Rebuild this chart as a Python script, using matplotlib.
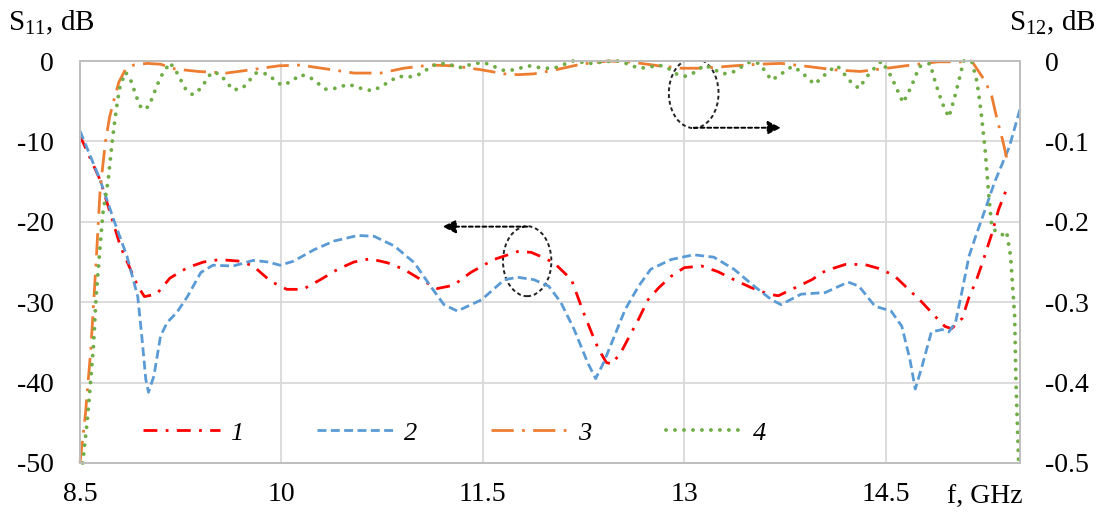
import matplotlib
matplotlib.use("Agg")
import matplotlib.pyplot as plt
from matplotlib.patches import Ellipse

plt.rcParams['font.family'] = ['Liberation Serif', 'DejaVu Serif']
plt.rcParams['mathtext.fontset'] = 'custom'
plt.rcParams['mathtext.rm'] = 'Liberation Serif'
plt.rcParams['axes.unicode_minus'] = False

# curve 1 (S11, red)
f1 = [8.5, 8.65, 8.8, 8.93, 8.98, 9.07, 9.17, 9.3, 9.42, 9.54, 9.69, 9.79, 9.92,
      10.04, 10.16, 10.29, 10.42, 10.54, 10.66, 10.79, 10.91, 11.04, 11.16, 11.28,
      11.41, 11.58, 11.76, 11.86, 11.93, 12.03, 12.16, 12.25, 12.31, 12.36, 12.42,
      12.46, 12.53, 12.58, 12.66, 12.73, 12.81, 12.9, 13.0, 13.13, 13.25, 13.37,
      13.5, 13.63, 13.7, 13.8, 13.95, 14.05, 14.2, 14.34, 14.47, 14.57, 14.67,
      14.77, 14.87, 14.94, 14.99, 15.07, 15.12, 15.17, 15.22, 15.29, 15.34, 15.41]
s1 = [-9.3, -14.8, -23, -28, -29.3, -29, -27, -25.7, -25, -24.7, -24.9, -25.5, -27.4,
      -28.4, -28.4, -27.2, -25.9, -25, -24.6, -25.1, -25.9, -27.2, -28.3, -27.9,
      -26.3, -24.7, -23.7, -23.8, -24.3, -25.1, -27.2, -31.3, -33.8, -35.8, -37.5,
      -37.7, -36.2, -34.6, -32.1, -29.7, -28.2, -26.8, -25.7, -25.5, -26.2, -27.2,
      -28.2, -29.0, -29.2, -28.4, -27.2, -26.1, -25.3, -25.3, -25.9, -26.8, -28.4,
      -30, -31.8, -33, -33.3, -32, -29.4, -27.5, -25.1, -21.5, -18.5, -15.5]

# curve 2 (S11, blue)
f2 = [8.5, 8.65, 8.75, 8.85, 8.93, 8.96, 8.99, 9.01, 9.05, 9.1, 9.15, 9.22, 9.3, 9.4,
      9.49, 9.64, 9.79, 9.9, 9.99, 10.09, 10.24, 10.39, 10.57, 10.69, 10.84, 10.99,
      11.11, 11.21, 11.31, 11.49, 11.66, 11.76, 11.88, 11.99, 12.08, 12.18, 12.28,
      12.34, 12.4, 12.48, 12.56, 12.66, 12.75, 12.9, 13.07, 13.22, 13.37, 13.52,
      13.65, 13.72, 13.87, 14.05, 14.22, 14.3, 14.42, 14.54, 14.62, 14.68, 14.72,
      14.77, 14.84, 14.92, 14.97, 15.02, 15.07, 15.12, 15.17, 15.24, 15.31, 15.42, 15.5]
s2 = [-8.7, -14.8, -19.7, -24.3, -29.3, -34.2, -39.6, -41.2, -39.2, -34.2, -32.5,
      -31.3, -29.3, -26.3, -25.4, -25.5, -24.8, -25.0, -25.4, -24.9, -23.5, -22.4,
      -21.7, -21.8, -23.0, -25.1, -28.0, -30.3, -31.1, -29.7, -27.2, -26.9, -27.2,
      -28.0, -30.0, -33.4, -37.5, -39.5, -37.5, -34.2, -30.9, -28.0, -25.9, -24.7,
      -24.1, -24.4, -25.9, -28.0, -29.7, -30.3, -29.0, -28.8, -27.5, -28.0, -30.5,
      -31.1, -33.0, -37.1, -40.8, -38.0, -33.7, -33.4, -33.7, -32.5, -28.5, -24.3,
      -21.8, -18.5, -15.1, -10.7, -6.0]

# curve 3 (S12, orange)
f3 = [8.5, 8.54, 8.58, 8.62, 8.65, 8.69, 8.72, 8.75, 8.79, 8.84, 8.9, 9.0, 9.1, 9.21,
      9.38, 9.59, 9.77, 9.98, 10.14, 10.3, 10.54, 10.74, 10.91, 11.11, 11.28, 11.49,
      11.66, 11.76, 11.88, 12.04, 12.23, 12.43, 12.58, 12.68, 12.81, 12.98, 13.1,
      13.22, 13.37, 13.55, 13.72, 13.93, 14.12, 14.31, 14.51, 14.69, 14.89, 15.07,
      15.14, 15.24, 15.29, 15.33, 15.37, 15.4]
s3 = [-0.5, -0.44, -0.36, -0.25, -0.16, -0.1, -0.07, -0.05, -0.026, -0.01, -0.005,
      -0.003, -0.004, -0.01, -0.013, -0.015, -0.011, -0.006, -0.005, -0.009, -0.015,
      -0.015, -0.009, -0.005, -0.006, -0.011, -0.016, -0.017, -0.016, -0.011, -0.004,
      0, -0.001, -0.003, -0.006, -0.009, -0.009, -0.008, -0.006, -0.004, -0.003,
      -0.007, -0.011, -0.013, -0.009, -0.005, -0.001, -0.001, 0, -0.025, -0.044,
      -0.073, -0.098, -0.12]

# curve 4 (S12, green)
f4 = [8.52, 8.55, 8.57, 8.6, 8.62, 8.65, 8.67, 8.71, 8.74, 8.76, 8.78, 8.8, 8.84,
      8.88, 8.93, 8.96, 9.01, 9.04, 9.07, 9.1, 9.17, 9.22, 9.29, 9.34, 9.4, 9.48,
      9.54, 9.64, 9.71, 9.81, 9.89, 10.0, 10.07, 10.14, 10.21, 10.33, 10.4, 10.5,
      10.61, 10.68, 10.75, 10.87, 10.95, 11.02, 11.15, 11.22, 11.33, 11.44, 11.51,
      11.66, 11.73, 11.84, 11.95, 12.03, 12.17, 12.3, 12.46, 12.52, 12.66, 12.73,
      12.81, 12.88, 12.94, 13.01, 13.08, 13.15, 13.29, 13.36, 13.49, 13.56, 13.65,
      13.74, 13.8, 13.86, 13.97, 14.08, 14.14, 14.24, 14.3, 14.38, 14.47, 14.54,
      14.63, 14.69, 14.75, 14.83, 14.87, 14.92, 14.97, 15.01, 15.05, 15.08, 15.14,
      15.18, 15.21, 15.24, 15.27, 15.29, 15.33, 15.37, 15.4, 15.43, 15.46, 15.47, 15.49]
s4 = [-0.5, -0.454, -0.417, -0.355, -0.293, -0.23, -0.19, -0.148, -0.1, -0.073,
      -0.049, -0.03, -0.014, -0.025, -0.049, -0.06, -0.057, -0.045, -0.032, -0.02,
      -0.002, -0.014, -0.036, -0.042, -0.034, -0.014, -0.016, -0.036, -0.034, -0.015,
      -0.016, -0.03, -0.026, -0.017, -0.02, -0.035, -0.034, -0.029, -0.035, -0.037,
      -0.031, -0.019, -0.02, -0.017, -0.004, -0.003, -0.008, -0.003, -0.002, -0.012,
      -0.011, -0.006, -0.009, -0.009, 0, -0.003, 0, 0, -0.009, -0.008, -0.005,
      -0.009, -0.016, -0.019, -0.014, -0.005, -0.016, -0.014, -0.001, -0.003, -0.024,
      -0.014, -0.007, -0.012, -0.029, -0.012, -0.006, -0.026, -0.034, -0.015, 0,
      -0.019, -0.052, -0.032, -0.007, -0.003, -0.027, -0.052, -0.07, -0.047, -0.021,
      0, 0, -0.026, -0.063, -0.11, -0.172, -0.206, -0.214, -0.216, -0.212, -0.243,
      -0.317, -0.4, -0.5]

xticks = [8.5, 10, 11.5, 13, 14.5]
xlabels = ['8.5', '10', '11.5', '13', '14.5']
yticks_l = [0, -10, -20, -30, -40, -50]
yticks_r = [0, -0.1, -0.2, -0.3, -0.4, -0.5]
ylabels_r = ['0', '-0.1', '-0.2', '-0.3', '-0.4', '-0.5']

fig = plt.figure(figsize=(11.02, 5.22), dpi=100)
ax = fig.add_axes([80 / 1102, (522 - 463) / 522, 940 / 1102, 402 / 522])
ax2 = ax.twinx()

ax.set_xlim(8.5, 15.5)
ax.set_ylim(-50, 0)
ax2.set_ylim(-0.5, 0)

ax.set_xticks(xticks)
ax.set_xticklabels(xlabels)
ax.set_yticks(yticks_l)
ax.set_yticklabels([str(v) for v in yticks_l])
ax2.set_yticks(yticks_r)
ax2.set_yticklabels(ylabels_r)

ax.grid(True, color='#d9d9d9', lw=1.3)
ax.set_axisbelow(True)
for a in (ax, ax2):
    for sp in a.spines.values():
        sp.set_color('#bfbfbf')
        sp.set_linewidth(1.3)
ax.tick_params(axis='both', length=0, labelsize=20)
ax.tick_params(axis='y', pad=19)
ax.tick_params(axis='x', pad=14)
ax2.tick_params(axis='y', length=0, labelsize=20, pad=18)

lw = 2.0
l1, = ax.plot(f1, s1, color='#ff0000', lw=lw, dashes=(5, 3, 1, 3), clip_on=False)
l2, = ax.plot(f2, s2, color='#5b9bd5', lw=lw, dashes=(3.2, 1.6), clip_on=False)
l3, = ax2.plot(f3, s3, color='#ed7d31', lw=lw, dashes=(8, 3, 1, 3), clip_on=False)
l4, = ax2.plot(f4, s4, color='#70ad47', lw=2.8, dashes=(0.01, 2.3),
               dash_capstyle='round', clip_on=False)

# annotation ellipses and arrows
ax.add_patch(Ellipse((13.07, -4.0), 0.37, 8.7, fill=False, ls=(0, (2, 1.5)),
                     lw=1.4, ec='#222222'))
ax.annotate('', xy=(13.72, -8.3), xytext=(13.07, -8.3),
            arrowprops=dict(arrowstyle='-|>', ls=(0, (2, 1.5)), color='black',
                            lw=1.4, mutation_scale=20, shrinkA=0, shrinkB=0))
ax.add_patch(Ellipse((11.83, -24.9), 0.36, 8.7, fill=False, ls=(0, (2, 1.5)),
                     lw=1.4, ec='#222222'))
ax.annotate('', xy=(11.2, -20.6), xytext=(11.83, -20.6),
            arrowprops=dict(arrowstyle='-|>', ls=(0, (2, 1.5)), color='black',
                            lw=1.4, mutation_scale=20, shrinkA=0, shrinkB=0))

leg = ax2.legend([l1, l2, l3, l4], ['1', '2', '3', '4'], ncol=4, frameon=False,
                 loc='center left', bbox_to_anchor=(0.067, 0.075),
                 borderaxespad=0, borderpad=0, handlelength=2.9,
                 handletextpad=0.4, columnspacing=2.8,
                 prop={'family': 'Liberation Serif', 'style': 'italic', 'size': 19})

fig.text(8 / 1102, 1 - 30 / 522, r'S$_{\mathregular{11}}$, dB', fontsize=21,
         va='baseline', ha='left')
fig.text(1096 / 1102, 1 - 30 / 522, r'S$_{\mathregular{12}}$, dB', fontsize=21,
         va='baseline', ha='right')
ax.text((985 - 80) / 940, -0.085, 'f, GHz', transform=ax.transAxes, fontsize=20,
        ha='center', va='center')

fig.savefig('out.png', dpi=100)
